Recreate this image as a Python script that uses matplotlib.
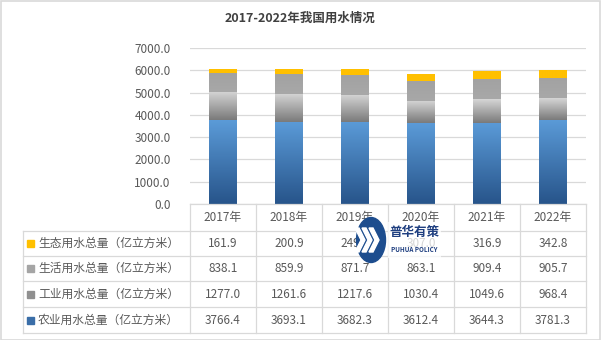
import numpy as np
import matplotlib.pyplot as plt
from matplotlib.colors import LinearSegmentedColormap
from matplotlib.patches import Rectangle, Ellipse, Polygon
from matplotlib.lines import Line2D

plt.rcParams['font.family'] = ['Noto Sans CJK SC', 'DejaVu Sans']

# water use by sector, 100 million m3
years = ['2017年', '2018年', '2019年', '2020年', '2021年', '2022年']
agri = [3766.4, 3693.1, 3682.3, 3612.4, 3644.3, 3781.3]
industry = [1277.0, 1261.6, 1217.6, 1030.4, 1049.6, 968.4]
domestic = [838.1, 859.9, 871.7, 863.1, 909.4, 905.7]
eco = [161.9, 200.9, 249.6, 307.0, 316.9, 342.8]

names = ['农业用水总量（亿立方米）', '工业用水总量（亿立方米）',
         '生活用水总量（亿立方米）', '生态用水总量（亿立方米）']
series = [agri, industry, domestic, eco]
# (bottom colour, top colour) for each gradient fill
grads = [('#27548a', '#5b9bd8'), ('#7a7a7a', '#d6d6d6'),
         ('#a8a8a8', '#a2a2a2'), ('#ffc000', '#ffc000')]
keys = ['#3a6ea8', '#8f8f8f', '#a5a5a5', '#ffc000']

W, H = 601, 340
fig = plt.figure(figsize=(W / 100, H / 100), dpi=100)

def fx(px):
    return px / W

def fy(py):
    return 1 - py / H

left, right, y0, y7 = 190, 586, 204, 48
ax = fig.add_axes([fx(left), fy(y0), fx(right - left), fy(y7) - fy(y0)])
ax.set_xlim(-0.5, 5.5)
ax.set_ylim(0, 7000)
ax.set_yticks(np.arange(0, 7001, 1000))
ax.set_yticklabels(['%.1f' % v for v in np.arange(0, 7001, 1000)])
ax.set_xticks([])
ax.tick_params(axis='y', length=0, pad=14, labelsize=8.5, labelcolor='#595959')
ax.grid(axis='y', color='#d9d9d9', lw=0.9)
ax.set_axisbelow(True)
for s in ax.spines.values():
    s.set_visible(False)

grad = np.linspace(0, 1, 256).reshape(-1, 1)
bw = 0.41
bottom = np.zeros(len(years))
for vals, (c0, c1) in zip(series, grads):
    cmap = LinearSegmentedColormap.from_list('g', [c0, c1])
    for i, v in enumerate(vals):
        ax.imshow(grad, cmap=cmap, origin='lower', aspect='auto',
                  extent=[i - bw / 2, i + bw / 2, bottom[i], bottom[i] + v],
                  zorder=2, interpolation='bilinear')
    bottom += np.array(vals)
ax.set_xlim(-0.5, 5.5)
ax.set_ylim(0, 7000)

fig.text(0.5, fy(18), '2017-2022年我国用水情况', ha='center', va='center',
         fontsize=9, fontweight='bold', color='#404040')

# data table under the plot
lc = '#d9d9d9'
tleft = 23
rows = [204, 231, 256, 281, 307, 333]
ncol = len(years)
cw = (right - left) / ncol

def hline(py, x0, x1):
    fig.add_artist(Line2D([fx(x0), fx(x1)], [fy(py), fy(py)], color=lc, lw=0.9))

def vline(px, ya, yb):
    fig.add_artist(Line2D([fx(px), fx(px)], [fy(ya), fy(yb)], color=lc, lw=0.9))

hline(rows[0], left, right)
for py in rows[1:]:
    hline(py, tleft, right)
vline(tleft, rows[1], rows[-1])
for j in range(ncol + 1):
    vline(left + j * cw, rows[0], rows[-1])

tc = '#595959'
for j, yr in enumerate(years):
    fig.text(fx(left + (j + 0.5) * cw), fy((rows[0] + rows[1]) / 2), yr,
             ha='center', va='center', fontsize=8.5, color=tc)

# table rows go top to bottom: eco, domestic, industry, agri
for r, k in enumerate([3, 2, 1, 0]):
    yc = (rows[r + 1] + rows[r + 2]) / 2
    fig.add_artist(Rectangle((fx(27), fy(yc + 3.5)), fx(7), fy(yc - 3.5) - fy(yc + 3.5),
                             color=keys[k], transform=fig.transFigure))
    fig.text(fx(38), fy(yc), names[k], ha='left', va='center', fontsize=8.5, color=tc)
    for j, v in enumerate(series[k]):
        fig.text(fx(left + (j + 0.5) * cw), fy(yc), '%.1f' % v,
                 ha='center', va='center', fontsize=8.5, color=tc)

# logo, a half-transparent white patch behind it
fig.add_artist(Rectangle((fx(388), fy(258)), fx(53), fy(222) - fy(258), color='white',
                         alpha=0.75, lw=0, transform=fig.transFigure, zorder=4))
fig.add_artist(Ellipse((fx(371), fy(240)), fx(29), fy(218) - fy(263),
                       color='#1d4d8e', transform=fig.transFigure, zorder=5))
for dx in (-8, -1, 6):
    pts = [(363 + dx, 228), (367 + dx, 228), (373 + dx, 240), (367 + dx, 252),
           (363 + dx, 252), (369 + dx, 240)]
    fig.add_artist(Polygon([(fx(a), fy(b)) for a, b in pts], closed=True,
                           color='white', transform=fig.transFigure, zorder=6))
fig.text(fx(414), fy(232), '普华有策', ha='center', va='center', fontsize=9,
         fontweight='bold', color='#1f3f80', zorder=6)
fig.text(fx(414), fy(250), 'PUHUA POLICY', ha='center', va='center', fontsize=4.5,
         fontweight='bold', color='#1f3f80', zorder=6)

# outer frame
fig.add_artist(Rectangle((0.5 / W, 0.5 / H), 1 - 1.5 / W, 1 - 1.5 / H, fill=False,
                         edgecolor='#d9d9d9', lw=1.2, transform=fig.transFigure))

fig.savefig('out.png', dpi=100)
